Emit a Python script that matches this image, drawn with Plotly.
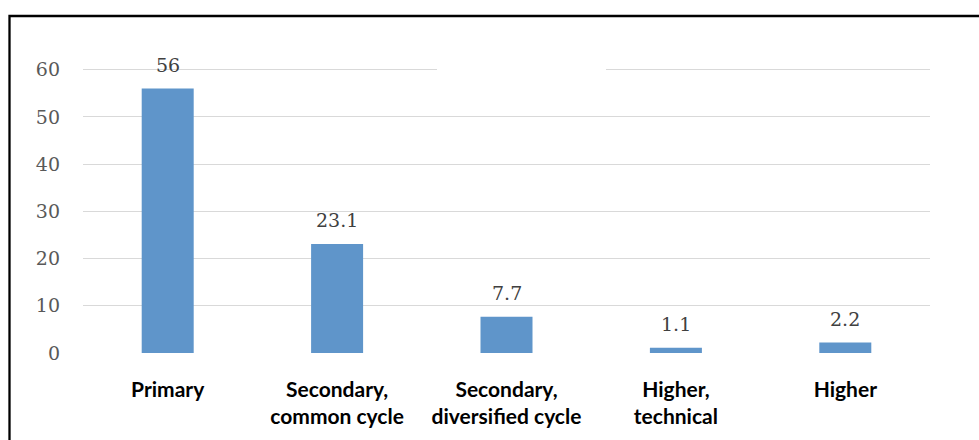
import plotly.graph_objects as go

# Education level shares (%)
categories = ["Primary", "Secondary,<br>common cycle", "Secondary,<br>diversified cycle",
              "Higher,<br>technical", "Higher"]
values = [56, 23.1, 7.7, 1.1, 2.2]
y_ticks = [0, 10, 20, 30, 40, 50, 60]

W, H = 979, 440
ml, mr, mt, mb = 83, 49, 65, 87
pw, ph = W - ml - mr, H - mt - mb


def px_to_paper_x(px):
    return (px - ml) / pw


def px_to_paper_y(py):
    return (H - mb - py) / ph


fig = go.Figure()

fig.add_trace(go.Bar(
    x=categories,
    y=values,
    marker=dict(color='#5f95ca', line=dict(width=0)),
    width=0.307,
    hoverinfo='x+y',
))

# value labels above bars
for c, v in zip(categories, values):
    fig.add_annotation(
        x=c, y=v, text=f"{v:g}", showarrow=False,
        yanchor='bottom', yshift=11,
        font=dict(family='DejaVu Serif', size=19, color='#404040'),
    )

# chart frame (only top and left edges are visible in the crop)
fig.add_shape(type='rect', xref='paper', yref='paper',
              x0=px_to_paper_x(9.5), x1=px_to_paper_x(W + 20),
              y0=px_to_paper_y(H + 20), y1=px_to_paper_y(16),
              line=dict(color='black', width=2.3), layer='above')

# gap in the top gridline
fig.add_shape(type='line', xref='paper', yref='y',
              x0=px_to_paper_x(437), x1=px_to_paper_x(606), y0=60, y1=60,
              line=dict(color='white', width=4), layer='above')

fig.update_layout(
    width=W, height=H,
    margin=dict(l=ml, r=mr, t=mt, b=mb),
    plot_bgcolor='white',
    paper_bgcolor='white',
    showlegend=False,
    bargap=0.69,
)

fig.update_xaxes(
    showgrid=False, showline=False, zeroline=False,
    tickfont=dict(family='Lato', size=21, color='black', weight='bold'),
    ticklabelstandoff=22,
)
fig.update_yaxes(
    range=[0, 61], tickvals=y_ticks,
    showgrid=True, gridcolor='#d9d9d9', gridwidth=1.3,
    zeroline=False, showline=False,
    tickfont=dict(family='DejaVu Serif', size=19, color='#595959'),
    ticklabelstandoff=22,
)

fig.write_html("out.html", config={'displayModeBar': False},
               post_script="document.body.style.margin='0';")
